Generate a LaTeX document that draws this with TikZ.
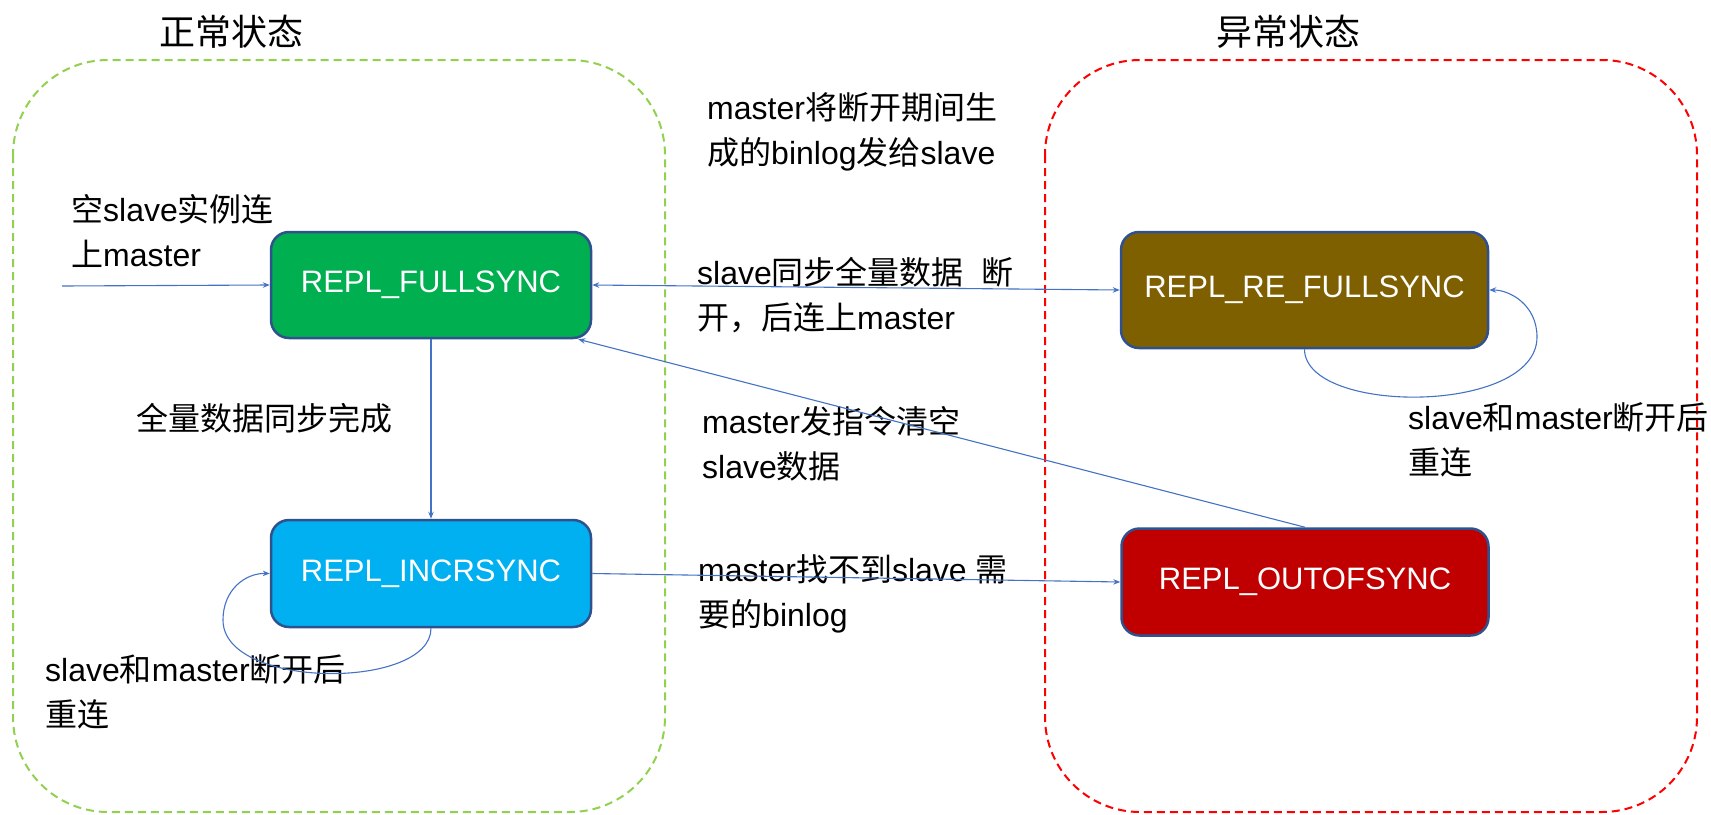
\documentclass[tikz,border=0pt]{standalone}
\usepackage{fontspec}
\setmainfont{Liberation Sans}
\newfontfamily\cjk{Noto Sans CJK SC}
\newcommand\zh[1]{{\cjk #1}}
\usetikzlibrary{arrows.meta,calc}

\definecolor{boxedge}{HTML}{2F528F}
\definecolor{linkblue}{HTML}{4472C4}
\definecolor{fullgreen}{HTML}{00B050}
\definecolor{incrblue}{HTML}{00B0F0}
\definecolor{reolive}{HTML}{7F6000}
\definecolor{outred}{HTML}{C00000}
\definecolor{okgreen}{HTML}{92D050}
\definecolor{errred}{HTML}{FF0000}

\begin{document}
\begin{tikzpicture}[x=1pt,y=-1pt,
  group/.style={line width=2pt, dash pattern=on 8pt off 5pt, rounded corners=95pt},
  grouptitle/.style={font=\cjk\fontsize{36}{40}\selectfont, inner sep=0pt},
  statebox/.style={draw=boxedge, line width=2.5pt, rounded corners=18pt,
    text=white, font=\fontsize{31}{36}\selectfont, inner sep=0pt},
  conn/.style={draw=linkblue, line width=1.1pt, -{Stealth[length=7pt,width=5.5pt]}},
  bothconn/.style={draw=linkblue, line width=1.1pt,
    {Stealth[length=7pt,width=5.5pt]}-{Stealth[length=7pt,width=5.5pt]}},
  note/.style={font=\fontsize{32}{45}\selectfont, align=left, anchor=west, inner sep=0pt}
]
\useasboundingbox (0,0) rectangle (1711,814);

% the two state groups
\draw[group, draw=okgreen] (13,60) rectangle (665,812);
\draw[group, draw=errred] (1045,60) rectangle (1697,812);
\node[grouptitle] (normaltitle) at (231,32) {正常状态};
\node[grouptitle] (errortitle) at (1288,32) {异常状态};

% replication states
\node[statebox, fill=fullgreen, minimum width=320pt, minimum height=106pt]
  (full) at (431,285) {REPL\_FULLSYNC};
\node[statebox, fill=incrblue, minimum width=320pt, minimum height=107pt]
  (incr) at (431,573.5) {REPL\_INCRSYNC};
\node[statebox, fill=reolive, minimum width=367pt, minimum height=116pt]
  (refull) at (1304.5,290) {REPL\_RE\_FULLSYNC};
\node[statebox, fill=outred, minimum width=367pt, minimum height=107pt]
  (outof) at (1305,582) {REPL\_OUTOFSYNC};

% transition labels
\node[note] (lblentry) at (71,230.5) {\zh{空}slave\zh{实例连}\\\zh{上}master};
\node[note] (lbldone) at (136,418) {\zh{全量数据同步完成}};
\node[note] (lblloopl) at (45,692) {slave\zh{和}master\zh{断开后}\\\zh{重连}};
\node[note] (lblbinlog) at (707,132) {master\zh{将断开期间生}\\\zh{成的}binlog\zh{发给}slave};
\node[note] (lblreconn) at (697,295) {slave\zh{同步全量数据}\ \ \zh{断}\\\zh{开，后连上}master};
\node[note] (lblclear) at (702,444) {master\zh{发指令清空}\\slave\zh{数据}};
\node[note] (lblmiss) at (698,594) {master\zh{找不到}slave \zh{需}\\\zh{要的}binlog};
\node[note] (lblloopr) at (1408,440) {slave\zh{和}master\zh{断开后}\\\zh{重连}};

% transitions
\coordinate (entry) at (62,286);
\draw[conn] (entry) -- (full.west);
\draw[conn] (full.south) -- (incr.north);
\draw[bothconn] (full.east) -- (refull.west);
\draw[conn] (incr.east) -- (outof.west);
\draw[conn] (outof.north) -- ($(full.south east)+(-14,0)$);

% reconnect loops
\draw[conn] (incr.south) .. controls (431,690) and (223,690) .. (223,620)
  .. controls (223,590) and (245,573) .. (incr.west);
\draw[conn] (refull.south) .. controls (1305,415) and (1537,415) .. (1537,337)
  .. controls (1537,305) and (1510,290) .. (refull.east);
\end{tikzpicture}
\end{document}
